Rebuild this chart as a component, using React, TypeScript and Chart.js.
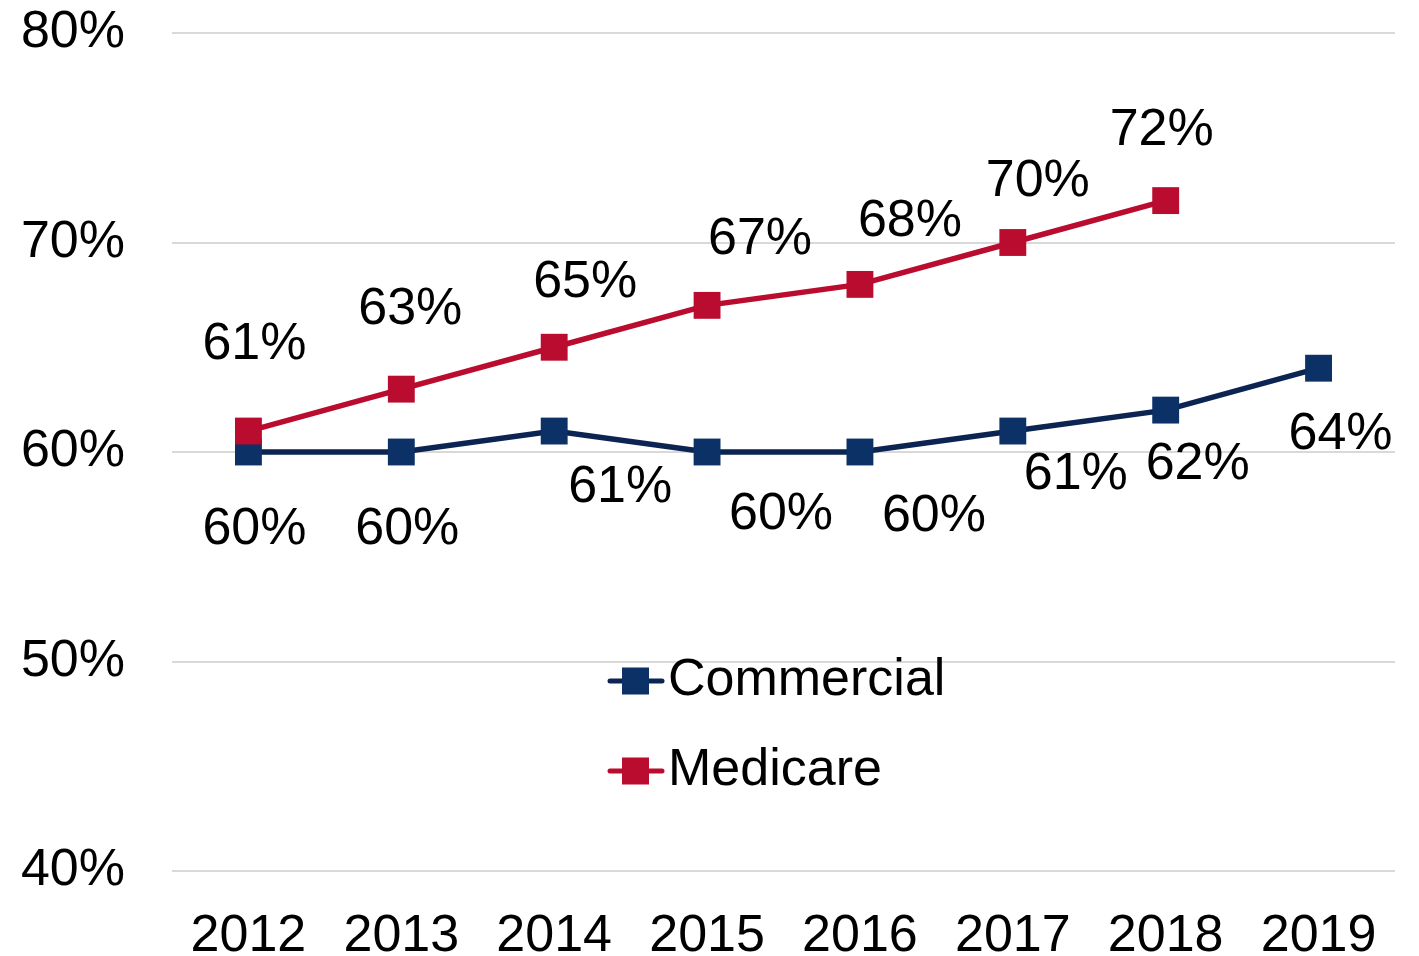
import React, { useEffect, useRef } from "react";
import { Chart, registerables } from "chart.js";

Chart.register(...registerables);

const categories = ["2012", "2013", "2014", "2015", "2016", "2017", "2018", "2019"];
const commercialValues = [60, 60, 61, 60, 60, 61, 62, 64];
const medicareValues: (number | null)[] = [61, 63, 65, 67, 68, 70, 72, null];
const yTicks = [40, 50, 60, 70, 80];

// label placement (pixel offsets from each point), layout only
const commercialLabelOffsets = [
  [6, 73], [6, 73], [66, 52], [74, 58], [74, 60], [63, 39], [32, 50], [22, 62],
];
const medicareLabelOffsets = [
  [6, -91], [9, -84], [31, -69], [53, -70], [50, -67], [25, -65], [-4, -74],
];

const FONT = "Liberation Sans, Arial, sans-serif";
const NAVY_LINE = "#0B2452";
const NAVY = "#0B3166";
const RED = "#BA0C2F";

const labelPlugin = {
  id: "pointLabels",
  afterDatasetsDraw(chart: any) {
    const ctx = chart.ctx;
    ctx.save();
    ctx.font = `52px ${FONT}`;
    ctx.fillStyle = "#000";
    ctx.textAlign = "center";
    ctx.textBaseline = "alphabetic";
    chart.data.datasets.forEach((ds: any, di: number) => {
      const meta = chart.getDatasetMeta(di);
      const offs = ds.labelOffsets as number[][];
      meta.data.forEach((pt: any, i: number) => {
        const v = ds.data[i];
        if (v === null || v === undefined) return;
        const o = offs[i] || [0, 0];
        // centre the digits (cap height ~0.716em) on the target point
        ctx.fillText(`${v}%`, pt.x + o[0], pt.y + o[1] + 52 * 0.358);
      });
    });
    ctx.restore();
  },
};

const legendPlugin = {
  id: "insideLegend",
  afterDraw(chart: any) {
    const ctx = chart.ctx;
    const items = [
      { label: "Commercial", line: NAVY_LINE, fill: NAVY, y: 681 },
      { label: "Medicare", line: RED, fill: RED, y: 771 },
    ];
    ctx.save();
    items.forEach((it) => {
      ctx.strokeStyle = it.line;
      ctx.lineWidth = 5;
      ctx.lineCap = "round";
      ctx.beginPath();
      ctx.moveTo(610, it.y);
      ctx.lineTo(662, it.y);
      ctx.stroke();
      ctx.fillStyle = it.fill;
      ctx.fillRect(622, it.y - 13.5, 27, 27);
      ctx.fillStyle = "#000";
      ctx.font = `52px ${FONT}`;
      ctx.textAlign = "left";
      ctx.textBaseline = "middle";
      ctx.fillText(it.label, 668, it.y);
    });
    ctx.restore();
  },
};

export default function App() {
  const ref = useRef<HTMLCanvasElement>(null);
  useEffect(() => {
    if (!ref.current) return;
    const chart = new Chart(ref.current, {
      type: "line",
      data: {
        labels: categories,
        datasets: [
          {
            label: "Commercial",
            data: commercialValues,
            borderColor: NAVY_LINE,
            backgroundColor: NAVY,
            pointBackgroundColor: NAVY,
            pointBorderWidth: 0,
            pointStyle: "rect",
            pointRadius: 19,
            borderWidth: 5.5,
            tension: 0,
            order: 1,
            labelOffsets: commercialLabelOffsets,
          } as any,
          {
            label: "Medicare",
            data: medicareValues,
            borderColor: RED,
            backgroundColor: RED,
            pointBackgroundColor: RED,
            pointBorderWidth: 0,
            pointStyle: "rect",
            pointRadius: 19,
            borderWidth: 5.5,
            tension: 0,
            order: 0,
            labelOffsets: medicareLabelOffsets,
          } as any,
        ],
      },
      options: {
        responsive: false,
        animation: false,
        layout: { padding: { top: 33, right: 24, left: 0, bottom: 0 } },
        plugins: {
          legend: { display: false },
          tooltip: { enabled: false },
        },
        scales: {
          x: {
            type: "category",
            offset: true,
            grid: { display: false, drawTicks: false },
            border: { display: false },
            ticks: {
              color: "#000",
              font: { family: FONT, size: 52 },
              padding: 34,
              maxRotation: 0,
              autoSkip: false,
            },
            afterFit: (s: any) => {
              s.height = 85;
              s.paddingLeft = 0;
              s.paddingRight = 0;
            },
          },
          y: {
            min: 40,
            max: 80,
            afterBuildTicks: (s: any) => {
              s.ticks = yTicks.map((v) => ({ value: v }));
            },
            grid: { color: "#D9D9D9", lineWidth: 2, drawTicks: false },
            border: { display: false },
            ticks: {
              color: "#000",
              font: { family: FONT, size: 52 },
              padding: 47,
              callback: (v: any) => `${v}%`,
            },
            afterFit: (s: any) => {
              s.width = 172;
              s.paddingTop = 0;
              s.paddingBottom = 0;
            },
          },
        },
      },
      plugins: [labelPlugin, legendPlugin],
    });
    return () => chart.destroy();
  }, []);
  return (
    <div style={{ position: "absolute", left: 0, top: 0, width: 1419, height: 956, background: "#fff" }}>
      <canvas ref={ref} width={1419} height={956} />
    </div>
  );
}
